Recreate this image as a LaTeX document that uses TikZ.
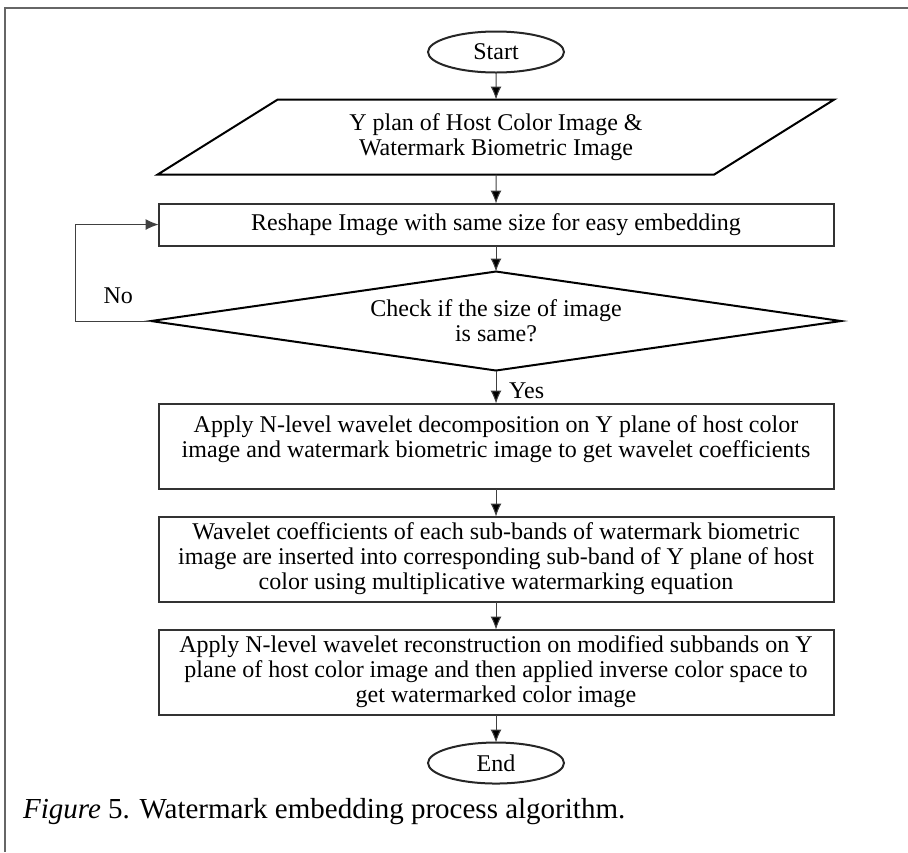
\documentclass[tikz,border=0pt]{standalone}
\usepackage{fontspec}
\setmainfont{Liberation Serif}
\usepackage{tikz}
\usetikzlibrary{positioning, shapes.geometric, arrows.meta}
\tikzset{term node/.style={ellipse,draw=black!85,line width=1pt,minimum width=68pt,minimum height=20.5pt,inner sep=0pt,outer sep=0pt},
         io node/.style={trapezium,trapezium left angle=32,trapezium right angle=148,draw,line width=1pt,minimum width=324.5pt,minimum height=37.5pt,inner sep=1pt,outer sep=0pt,align=center},
         proc node/.style={rectangle,draw=black!80,line width=1pt,minimum width=337.5pt,inner sep=2pt,outer sep=0pt,align=center},
         dec node/.style={diamond,aspect=7,draw,line width=1pt,minimum width=345pt,minimum height=49.5pt,inner sep=0pt,outer sep=0pt,align=center},
         flow/.style={draw=black!75,line width=0.5pt,-{Latex[length=6.5pt,width=5.5pt]}}}

\begin{document}
\begin{tikzpicture}[font=\fontsize{12}{12.5}\selectfont]
            \useasboundingbox (0,0) rectangle (454pt,-426pt);
            \draw[black!60, line width=0.7pt] (2.5pt,-426pt) -- (2.5pt,-4pt) -- (454pt,-4pt);

            \node[term node] (start) at (248pt,-26pt) {Start};
            \node[io node] (input) [below = 13.5pt of start] {Y plan of Host Color Image \&\\Watermark Biometric Image};
            \node[proc node, minimum height=21pt] (reshape) [below = 14.5pt of input] {Reshape Image with same size for easy embedding};
            \node[dec node] (check) [below = 13pt of reshape] {Check if the size of image\\is same?};
            \node[proc node, minimum height=42.5pt] (decomp) [below = 16.5pt of check] {Apply N-level wavelet decomposition on Y plane of host color\\image and watermark biometric image to get wavelet coefficients\\[-3pt]\mbox{}};
            \node[proc node, minimum height=42.5pt] (insert) [below = 14pt of decomp] {Wavelet coefficients of each sub-bands of watermark biometric\\image are inserted into corresponding sub-band of Y plane of host\\color using multiplicative watermarking equation};
            \node[proc node, minimum height=42.5pt] (recon) [below = 14pt of insert] {Apply N-level wavelet reconstruction on modified subbands on Y\\plane of host color image and then applied inverse color space to\\get watermarked color image};
            \node[term node] (fin) [below = 14pt of recon] {End};
            \node[anchor=west, font=\fontsize{14.5}{16}\selectfont] (caption) at (8pt,-406pt) {\textit{Figure} 5. Watermark embedding process algorithm.};

            \path[flow]
            (start) edge (input)
            (input) edge (reshape)
            (reshape) edge (check)
            (check) edge node[right=3pt, yshift=-2pt] {Yes} (decomp)
            (decomp) edge (insert)
            (insert) edge (recon)
            (recon) edge (fin);
            \draw[flow] (check.west) -- ++(-38pt,0) node[pos=0.43, above=5pt] {No} |- (reshape.west);
        \end{tikzpicture}
\end{document}
